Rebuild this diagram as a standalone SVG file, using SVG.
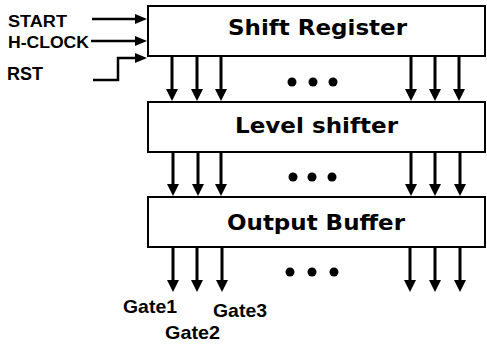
<svg xmlns="http://www.w3.org/2000/svg" width="487" height="345" viewBox="0 0 487 345">
<defs>
<style>
.box{fill:#fff;stroke:#000;stroke-width:2}
.title{font-family:"DejaVu Sans","Liberation Sans",sans-serif;font-weight:bold;font-size:22px;fill:#000}
.lbl{font-family:"Liberation Sans",Arial,sans-serif;font-weight:bold;fill:#000}
.gate{font-family:"Liberation Sans",Arial,sans-serif;font-weight:bold;font-size:19px;fill:#000}
.v{stroke:#000;stroke-width:3;fill:none;marker-end:url(#ah)}
.h{stroke:#000;stroke-width:2.5;fill:none;marker-end:url(#ahs)}
.dot{fill:#000}
</style>
<marker id="ah" viewBox="0 0 12 12" refX="0" refY="6" markerWidth="12" markerHeight="12" markerUnits="userSpaceOnUse" orient="auto">
<path d="M0,0 L12,6 L0,12 Z" fill="#000"/>
</marker>
<marker id="ahs" viewBox="0 0 12 10" refX="0" refY="5" markerWidth="12" markerHeight="10" markerUnits="userSpaceOnUse" orient="auto">
<path d="M0,0 L12,5 L0,10 Z" fill="#000"/>
</marker>
</defs>
<rect width="487" height="345" fill="#fff"/>
<g id="shift-register">
<rect class="box" x="148" y="6" width="337" height="50"/>
<text class="title" x="228" y="35" textLength="179" lengthAdjust="spacingAndGlyphs">Shift Register</text>
</g>
<g id="level-shifter">
<rect class="box" x="148" y="102" width="337" height="50"/>
<text class="title" x="235" y="133" textLength="163" lengthAdjust="spacingAndGlyphs">Level shifter</text>
</g>
<g id="output-buffer">
<rect class="box" x="148" y="197" width="337" height="50"/>
<text class="title" x="227" y="230" textLength="178" lengthAdjust="spacingAndGlyphs">Output Buffer</text>
</g>
<g id="input-labels">
<text class="lbl" x="8" y="27" font-size="16" textLength="59" lengthAdjust="spacingAndGlyphs">START</text>
<text class="lbl" x="8" y="48" font-size="16" textLength="81" lengthAdjust="spacingAndGlyphs">H-CLOCK</text>
<text class="lbl" x="7" y="80" font-size="18" textLength="36" lengthAdjust="spacingAndGlyphs">RST</text>
</g>
<g id="gate-labels">
<text class="gate" x="123" y="313" textLength="54" lengthAdjust="spacingAndGlyphs">Gate1</text>
<text class="gate" x="165" y="339" textLength="55" lengthAdjust="spacingAndGlyphs">Gate2</text>
<text class="gate" x="213" y="317" textLength="54" lengthAdjust="spacingAndGlyphs">Gate3</text>
</g>
<g id="connectors">
<path class="h" d="M92,19 H135"/>
<path class="h" d="M91,41 H135"/>
<path class="h" d="M93,80 H118 V58 H135"/>
<path class="v" d="M172,57 V89"/>
<path class="v" d="M197,57 V89"/>
<path class="v" d="M221,57 V89"/>
<path class="v" d="M411,57 V89"/>
<path class="v" d="M435,57 V89"/>
<path class="v" d="M459,57 V89"/>
<path class="v" d="M173,153 V184"/>
<path class="v" d="M198,153 V184"/>
<path class="v" d="M221,153 V184"/>
<path class="v" d="M411,153 V184"/>
<path class="v" d="M435,153 V184"/>
<path class="v" d="M460,153 V184"/>
<path class="v" d="M173,248 V280"/>
<path class="v" d="M197,248 V280"/>
<path class="v" d="M222,248 V280"/>
<path class="v" d="M410,248 V280"/>
<path class="v" d="M435,248 V280"/>
<path class="v" d="M460,248 V280"/>
</g>
<g id="ellipses">
<circle class="dot" cx="292" cy="82" r="4.5"/>
<circle class="dot" cx="313" cy="82" r="4.5"/>
<circle class="dot" cx="333" cy="82" r="4.5"/>
<circle class="dot" cx="293" cy="177" r="4.5"/>
<circle class="dot" cx="312" cy="177" r="4.5"/>
<circle class="dot" cx="332" cy="177" r="4.5"/>
<circle class="dot" cx="290" cy="272" r="4.5"/>
<circle class="dot" cx="312" cy="272" r="4.5"/>
<circle class="dot" cx="334" cy="272" r="4.5"/>
</g>
</svg>
